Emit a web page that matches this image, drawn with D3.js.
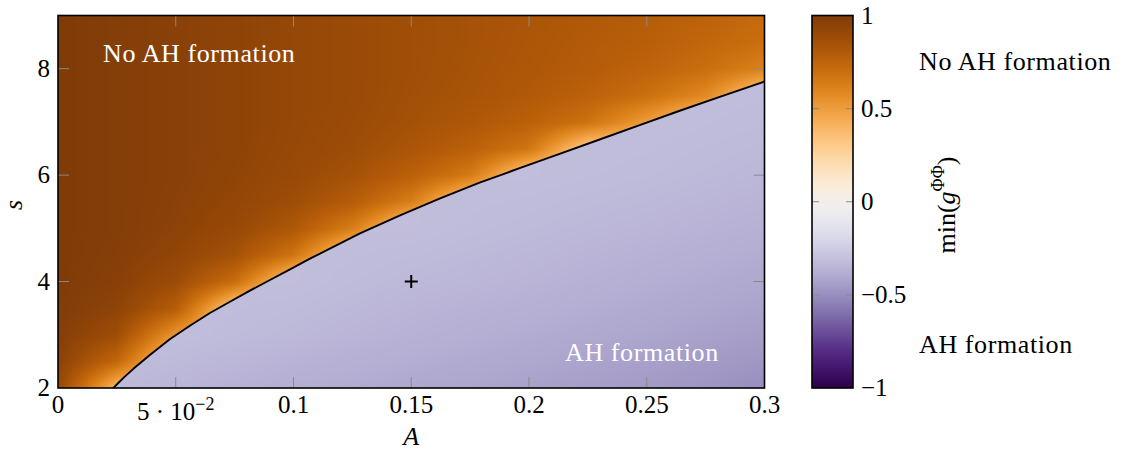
<!DOCTYPE html>
<html lang="en">
<head>
<meta charset="UTF-8">
<title>min g phi phi</title>
<script src="https://cdn.jsdelivr.net/npm/d3@7"></script>
<style>
  body { margin: 0; background: #fff; }
  svg text { font-family: "Liberation Serif", "Times New Roman", "DejaVu Serif", serif; fill: #000; }
</style>
</head>
<body>
<div id="chart"></div>
<script>
// ---- values ----
var aTicks = [0, 0.05, 0.1, 0.15, 0.2, 0.25, 0.3];
var sTicks = [2, 4, 6, 8];
var barTicks = [-1, -0.5, 0, 0.5, 1];

// line where min(g^PhiPhi) changes sign
var boundaryA = [0.0235, 0.028, 0.032, 0.039, 0.0476, 0.056, 0.0645, 0.073, 0.0815, 0.090, 0.0985, 0.107,
                 0.128, 0.145, 0.162, 0.179, 0.196, 0.213, 0.230, 0.247, 0.264, 0.281, 0.300];
var boundaryS = [2.00, 2.20, 2.36, 2.62, 2.92, 3.17, 3.41, 3.62, 3.83, 4.03, 4.23, 4.43,
                 4.90, 5.24, 5.56, 5.86, 6.13, 6.40, 6.67, 6.94, 7.21, 7.47, 7.76];

// orange side (no AH formation), one column per A, s = 2 ... 9 in steps of 0.5
var orangeA = [0, 0.025, 0.05, 0.075, 0.1, 0.125, 0.15, 0.175, 0.2, 0.225, 0.25, 0.275, 0.3];
var orangeS = [2, 2.5, 3, 3.5, 4, 4.5, 5, 5.5, 6, 6.5, 7, 7.5, 8, 8.5, 9];
var orangeVals = [
  [0.91, 0.95, 0.975, 0.99, 1, 1, 1, 1, 1, 1, 1, 1, 1, 1, 1],
  [0.38, 0.725, 0.875, 0.94, 0.965, 0.975, 0.98, 0.98, 0.98, 0.98, 0.98, 0.98, 0.98, 0.98, 0.98],
  [0.3, 0.3, 0.52, 0.785, 0.885, 0.93, 0.95, 0.955, 0.96, 0.96, 0.96, 0.96, 0.96, 0.96, 0.96],
  [0.3, 0.3, 0.3, 0.3, 0.70, 0.85, 0.905, 0.925, 0.935, 0.94, 0.94, 0.94, 0.94, 0.94, 0.94],
  [0.3, 0.3, 0.3, 0.3, 0.3, 0.665, 0.815, 0.875, 0.90, 0.91, 0.915, 0.915, 0.915, 0.915, 0.915],
  [0.3, 0.3, 0.3, 0.3, 0.3, 0.3, 0.62, 0.785, 0.85, 0.88, 0.89, 0.895, 0.895, 0.895, 0.895],
  [0.3, 0.3, 0.3, 0.3, 0.3, 0.3, 0.3, 0.62, 0.765, 0.83, 0.855, 0.865, 0.87, 0.87, 0.87],
  [0.3, 0.3, 0.3, 0.3, 0.3, 0.3, 0.3, 0.3, 0.64, 0.765, 0.82, 0.84, 0.845, 0.85, 0.85],
  [0.3, 0.3, 0.3, 0.3, 0.3, 0.3, 0.3, 0.3, 0.3, 0.66, 0.765, 0.805, 0.82, 0.825, 0.83],
  [0.3, 0.3, 0.3, 0.3, 0.3, 0.3, 0.3, 0.3, 0.3, 0.3, 0.68, 0.76, 0.79, 0.80, 0.81],
  [0.3, 0.3, 0.3, 0.3, 0.3, 0.3, 0.3, 0.3, 0.3, 0.3, 0.5, 0.69, 0.75, 0.775, 0.785],
  [0.3, 0.3, 0.3, 0.3, 0.3, 0.3, 0.3, 0.3, 0.3, 0.3, 0.3, 0.58, 0.695, 0.735, 0.755],
  [0.3, 0.3, 0.3, 0.3, 0.3, 0.3, 0.3, 0.3, 0.3, 0.3, 0.3, 0.3, 0.61, 0.695, 0.72]
];

// purple side (AH formation), one column per A, s = 2 ... 9
var purpleA = [0, 0.05, 0.1, 0.15, 0.2, 0.25, 0.3];
var purpleS = [2, 3, 4, 5, 6, 7, 8, 9];
var purpleVals = [
  [-0.32, -0.32, -0.32, -0.32, -0.32, -0.32, -0.32, -0.32],
  [-0.35, -0.32, -0.32, -0.32, -0.32, -0.32, -0.32, -0.32],
  [-0.38, -0.34, -0.32, -0.32, -0.32, -0.32, -0.32, -0.32],
  [-0.405, -0.365, -0.34, -0.32, -0.32, -0.32, -0.32, -0.32],
  [-0.43, -0.39, -0.355, -0.335, -0.32, -0.32, -0.32, -0.32],
  [-0.455, -0.415, -0.38, -0.35, -0.33, -0.32, -0.32, -0.32],
  [-0.5, -0.445, -0.405, -0.37, -0.345, -0.33, -0.32, -0.32]
];

var marker = [0.15, 4];

// ---- layout ----
var W = 1124, H = 462;
var pL = 58, pR = 764.5, pT = 15.5, pB = 388;
var barL = 812, barR = 853;
var numSize = 25, wordSize = 26;

var x = d3.scaleLinear().domain([0, 0.3]).range([pL, pR]);
var y = d3.scaleLinear().domain([2, 9]).range([pB, pT]);
var cb = d3.scaleLinear().domain([-1, 1]).range([pB, pT]);
var color = d3.scaleSequential(d3.interpolatePuOr).domain([-1, 1]);
var edge = d3.scaleLinear().domain(boundaryA).range(boundaryS);

function minus(d) { return d < 0 ? "\u2212" + Math.abs(d) : String(d); }

// bilinear lookup in a grid stored column by column
function lookup(xs, ys, cols, a, s) {
  var i = Math.max(0, Math.min(xs.length - 2, d3.bisectRight(xs, a) - 1));
  var j = Math.max(0, Math.min(ys.length - 2, d3.bisectRight(ys, s) - 1));
  var u = Math.max(0, Math.min(1, (a - xs[i]) / (xs[i + 1] - xs[i])));
  var v = Math.max(0, Math.min(1, (s - ys[j]) / (ys[j + 1] - ys[j])));
  var c0 = cols[i], c1 = cols[i + 1];
  return (1 - u) * ((1 - v) * c0[j] + v * c0[j + 1]) + u * ((1 - v) * c1[j] + v * c1[j + 1]);
}

var svg = d3.select("#chart").append("svg")
    .attr("width", W)
    .attr("height", H);

// heat map painted on a canvas, then put in the svg
var cw = Math.round(pR - pL), ch = Math.round(pB - pT);
var canvas = document.createElement("canvas");
canvas.width = cw; canvas.height = ch;
var ctx = canvas.getContext("2d");
var img = ctx.createImageData(cw, ch);
for (var py = 0; py < ch; py++) {
  var s = y.invert(pT + (py + 0.5) * (pB - pT) / ch);
  for (var px = 0; px < cw; px++) {
    var a = x.invert(pL + (px + 0.5) * (pR - pL) / cw);
    var above = a < boundaryA[0] || s >= edge(a);
    var val = above ? lookup(orangeA, orangeS, orangeVals, a, s)
                    : lookup(purpleA, purpleS, purpleVals, a, s);
    var c = d3.rgb(color(val));
    var k = (py * cw + px) * 4;
    img.data[k] = c.r; img.data[k + 1] = c.g; img.data[k + 2] = c.b; img.data[k + 3] = 255;
  }
}
ctx.putImageData(img, 0, 0);

svg.append("image")
    .attr("x", pL).attr("y", pT)
    .attr("width", pR - pL).attr("height", pB - pT)
    .attr("preserveAspectRatio", "none")
    .attr("href", canvas.toDataURL());

svg.append("clipPath").attr("id", "plotclip")
  .append("rect")
    .attr("x", pL).attr("y", pT)
    .attr("width", pR - pL).attr("height", pB - pT);

// zero line
var pts = boundaryA.map(function(d, i) { return [d, boundaryS[i]]; });
svg.append("path")
    .datum(pts)
    .attr("clip-path", "url(#plotclip)")
    .attr("fill", "none")
    .attr("stroke", "#000")
    .attr("stroke-width", 1.9)
    .attr("stroke-linejoin", "round")
    .attr("d", d3.line().x(function(d) { return x(d[0]); }).y(function(d) { return y(d[1]); }));

// ticks inside the frame
var tickLen = 11, tickCol = "#8a8a8a";
var g = svg.append("g").attr("stroke", tickCol).attr("stroke-width", 1);
aTicks.slice(1, -1).forEach(function(t) {
  g.append("line").attr("x1", x(t)).attr("x2", x(t)).attr("y1", pB).attr("y2", pB - tickLen);
  g.append("line").attr("x1", x(t)).attr("x2", x(t)).attr("y1", pT).attr("y2", pT + tickLen);
});
sTicks.slice(1).forEach(function(t) {
  g.append("line").attr("x1", pL).attr("x2", pL + tickLen).attr("y1", y(t)).attr("y2", y(t));
  g.append("line").attr("x1", pR).attr("x2", pR - tickLen).attr("y1", y(t)).attr("y2", y(t));
});

svg.append("rect")
    .attr("x", pL).attr("y", pT)
    .attr("width", pR - pL).attr("height", pB - pT)
    .attr("fill", "none").attr("stroke", "#000").attr("stroke-width", 1.6);

// plus marker
svg.append("path")
    .attr("transform", "translate(" + x(marker[0]) + "," + y(marker[1]) + ")")
    .attr("d", "M-6.5,0H6.5M0,-6.5V6.5")
    .attr("stroke", "#000").attr("stroke-width", 2);

// tick labels
svg.selectAll(".xl").data(aTicks).enter().append("text")
    .attr("class", "xl")
    .attr("x", function(d) { return x(d); })
    .attr("y", function(d) { return d === 0.05 ? 420 : 413; })
    .attr("text-anchor", "middle")
    .attr("font-size", numSize)
    .each(function(d) {
      var t = d3.select(this);
      if (d === 0.05) {
        t.append("tspan").text("5 \u00b7 10");
        t.append("tspan").attr("dy", -10).attr("font-size", 18).text("\u22122");
      } else {
        t.text(String(d));
      }
    });

svg.selectAll(".yl").data(sTicks).enter().append("text")
    .attr("class", "yl")
    .attr("x", 50)
    .attr("y", function(d) { return y(d) + 8; })
    .attr("text-anchor", "end")
    .attr("font-size", numSize)
    .text(function(d) { return d; });

svg.append("text")
    .attr("x", x(0.15)).attr("y", 445)
    .attr("text-anchor", "middle")
    .attr("font-size", wordSize).attr("font-style", "italic")
    .text("A");

svg.append("text")
    .attr("transform", "translate(22,205) rotate(-90)")
    .attr("text-anchor", "middle")
    .attr("font-size", wordSize).attr("font-style", "italic")
    .text("s");

// labels in the plot
svg.append("text")
    .attr("x", 103).attr("y", 62)
    .attr("font-size", wordSize).attr("letter-spacing", 0.6).style("fill", "#fff")
    .text("No AH formation");
svg.append("text")
    .attr("x", 565).attr("y", 361)
    .attr("font-size", wordSize).attr("letter-spacing", 0.6).style("fill", "#fff")
    .text("AH formation");

// colour bar
var grad = svg.append("defs").append("linearGradient")
    .attr("id", "bar")
    .attr("x1", 0).attr("y1", 1).attr("x2", 0).attr("y2", 0);
d3.range(0, 1.0001, 0.02).forEach(function(k) {
  grad.append("stop").attr("offset", k).attr("stop-color", color(-1 + 2 * k));
});
svg.append("rect")
    .attr("x", barL).attr("y", pT)
    .attr("width", barR - barL).attr("height", pB - pT)
    .attr("fill", "url(#bar)");
var gb = svg.append("g").attr("stroke", tickCol).attr("stroke-width", 1);
barTicks.slice(1, -1).forEach(function(t) {
  gb.append("line").attr("x1", barL).attr("x2", barL + 7).attr("y1", cb(t)).attr("y2", cb(t));
  gb.append("line").attr("x1", barR).attr("x2", barR - 7).attr("y1", cb(t)).attr("y2", cb(t));
});
svg.append("rect")
    .attr("x", barL).attr("y", pT)
    .attr("width", barR - barL).attr("height", pB - pT)
    .attr("fill", "none").attr("stroke", "#000").attr("stroke-width", 1.6);

svg.selectAll(".bl").data(barTicks).enter().append("text")
    .attr("class", "bl")
    .attr("x", 861)
    .attr("y", function(d) { return cb(d) + 8; })
    .attr("font-size", numSize)
    .text(minus);

var lab = svg.append("text")
    .attr("transform", "translate(955,205) rotate(-90)")
    .attr("text-anchor", "middle")
    .attr("font-size", wordSize);
lab.append("tspan").text("min(");
lab.append("tspan").attr("font-style", "italic").text("g");
lab.append("tspan").attr("dy", -11).attr("font-size", 18).text("\u03a6\u03a6");
lab.append("tspan").attr("dy", 11).text(")");

svg.append("text")
    .attr("x", 919).attr("y", 70)
    .attr("font-size", wordSize).attr("letter-spacing", 0.6)
    .text("No AH formation");
svg.append("text")
    .attr("x", 919).attr("y", 353)
    .attr("font-size", wordSize).attr("letter-spacing", 0.6)
    .text("AH formation");
</script>
</body>
</html>
